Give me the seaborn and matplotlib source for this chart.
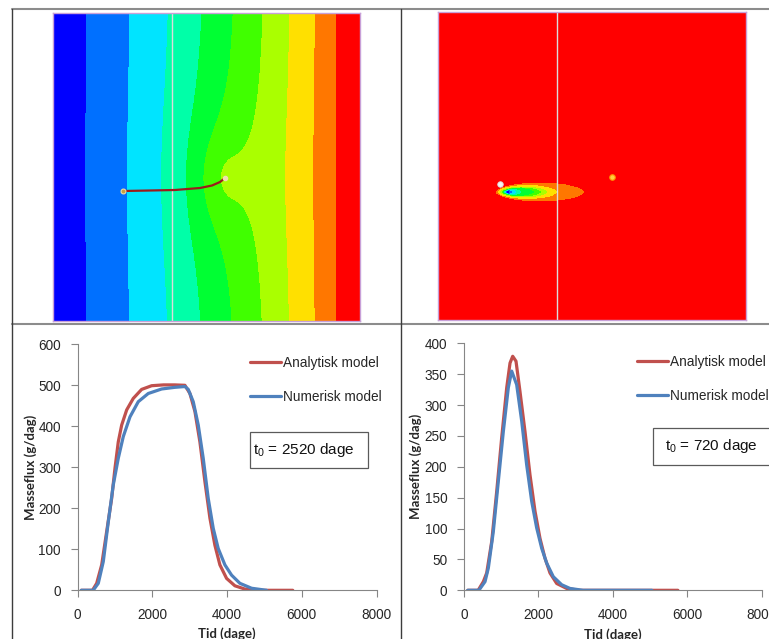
import numpy as np
import pandas as pd
import matplotlib
matplotlib.use("Agg")
import matplotlib.pyplot as plt
import seaborn as sns
from matplotlib.lines import Line2D
from matplotlib.patches import Rectangle

W, H = 769, 639

#########################################
################ DATA ###################
#########################################

# contour classes (jet-like, 10 bands) and where they sit along the left map (pixels)
band_colors = ["#0000ff", "#0070ff", "#00e4ff", "#00ffa8", "#00ff33",
               "#40ff00", "#aaff00", "#ffe000", "#ff7700", "#ff0000"]
band_edges_x = [53, 88, 133, 172, 206, 237, 266, 292, 317, 338, 360]
band_levels = [-1, 1, 2, 3, 4, 5, 6, 7, 8, 9, 99]

# bulge of the head field around the drain end
well_x, well_y, well_amp = 222, 178, 1.5
well_sx, well_sy = 28, 50
drain_x = [123, 150, 175, 200, 212, 220, 225]
drain_y = [191, 190.5, 190, 188, 185.5, 182, 178]

# plume in the right map: extent of each concentration contour (pixels)
plume_c = [0.1, 0.2, 0.3, 0.4, 0.5, 0.6, 0.7, 0.8, 0.9]
plume_left = [495, 497, 499, 501, 502, 503.5, 504.5, 505, 506]
plume_right = [585, 558, 548, 542, 535, 522, 517, 513, 510]
plume_half_h = [10, 7.5, 6, 5, 4.5, 3.5, 3, 2.2, 1.5]
plume_yc = 192

# breakthrough curves, t0 = 2520 dage
tid_an_1 = [100, 400, 513, 647, 780, 914, 1003, 1091, 1182, 1316, 1492, 1716, 1984, 2300,
            2600, 2874, 3008, 3142, 3275, 3409, 3543, 3676, 3810, 3989, 4211, 4479, 4925,
            5400, 5760]
flux_an_1 = [0, 0, 17, 62, 143, 224, 298, 362, 403, 440, 468, 490, 499, 501,
             501, 500, 480, 436, 362, 265, 176, 110, 62, 29, 11, 3, 0,
             0, 0]
tid_num_1 = [100, 420, 556, 690, 824, 957, 1091, 1225, 1404, 1626, 1893, 2251, 2600, 2874,
             2963, 3097, 3231, 3364, 3498, 3632, 3765, 3944, 4122, 4345, 4658, 5059]
flux_num_1 = [0, 0, 17, 70, 167, 257, 322, 375, 423, 460, 480, 491, 495, 497,
              490, 460, 403, 322, 224, 151, 102, 62, 37, 17, 5, 0]

# breakthrough curves, t0 = 720 dage
tid_an_2 = [100, 380, 520, 610, 745, 879, 1013, 1148, 1237, 1309, 1398, 1505, 1640, 1774,
            1909, 2043, 2177, 2312, 2492, 2760, 3100, 4000, 5000, 5750]
flux_an_2 = [0, 0, 14, 28, 79, 160, 247, 328, 368, 379, 371, 322, 257, 187,
             128, 84, 52, 28, 11, 3, 0, 0, 0, 0]
tid_num_2 = [100, 400, 565, 654, 788, 922, 1057, 1191, 1282, 1416, 1551, 1685, 1820, 1954,
             2089, 2223, 2401, 2626, 2849, 3200, 4000, 5050]
flux_num_2 = [0, 0, 14, 36, 95, 176, 257, 328, 355, 333, 274, 203, 144, 101,
              68, 44, 22, 9, 3, 0, 0, 0]

x_ticks = [0, 2000, 4000, 6000, 8000]

#########################################
################ STYLE ##################
#########################################

sns.set_theme(style="white")
plt.rcParams["font.family"] = ["Liberation Sans", "DejaVu Sans"]

fig = plt.figure(figsize=(W / 100, H / 100), dpi=100)


def px_axes(x0, y0, x1, y1):
    return fig.add_axes([x0 / W, 1 - y1 / H, (x1 - x0) / W, (y1 - y0) / H])


def fig_line(x0, y0, x1, y1, color, lw):
    fig.add_artist(Line2D([x0 / W, x1 / W], [1 - y0 / H, 1 - y1 / H],
                          transform=fig.transFigure, color=color, lw=lw))


#########################################
############## TOP MAPS #################
#########################################

# left map: head field
ax1 = px_axes(53, 13, 360, 321)
gx, gy = np.meshgrid(np.linspace(53, 360, 500), np.linspace(13, 321, 500))
head = np.interp(gx, band_edges_x, np.arange(11)) + \
    well_amp / (1 + ((gx - well_x) / well_sx) ** 2 + ((gy - well_y) / well_sy) ** 2)
ax1.contourf(gx, gy, head, levels=band_levels, colors=band_colors)
ax1.axvline(172, color="#dcdcdc", lw=1)
ax1.plot(drain_x, drain_y, color="#9b1c1c", lw=1.6)
ax1.plot(drain_x[0], drain_y[0], "o", ms=3.5, mfc="#c8a040", mec="#f0e0a0", mew=0.8)
ax1.plot(drain_x[-1], drain_y[-1], "o", ms=3, mfc="#f0e0b0", mec="#f0e0b0")
ax1.set_xlim(53, 360)
ax1.set_ylim(321, 13)

# right map: concentration plume, nested ellipses
ax2 = px_axes(438, 12, 746, 320)
gx, gy = np.meshgrid(np.linspace(438, 746, 900), np.linspace(12, 320, 900))
conc = np.zeros_like(gx)
for c in np.linspace(0.101, 0.95, 86):
    left = np.interp(c, plume_c, plume_left)
    right = np.interp(c, plume_c, plume_right)
    hh = np.interp(c, plume_c, plume_half_h)
    inside = ((gx - (left + right) / 2) / ((right - left) / 2)) ** 2 + ((gy - plume_yc) / hh) ** 2 <= 1
    conc = np.where(inside, np.maximum(conc, c), conc)
ax2.contourf(gx, gy, 10 - 10 * conc, levels=band_levels, colors=band_colors)
ax2.axvline(557, color="#dcdcdc", lw=1)
ax2.plot(500, 184, "o", ms=4, mfc="#f4f4f4", mec="#d8d8d8", mew=0.6)
ax2.plot(612, 177, "o", ms=4, mfc="#ffd040", mec="#ff9000", mew=0.8)
ax2.set_xlim(438, 746)
ax2.set_ylim(320, 12)

for ax in (ax1, ax2):
    ax.set_xticks([])
    ax.set_yticks([])
    for s in ax.spines.values():
        s.set_color("#c8a0d8")
        s.set_linewidth(1)

#########################################
########## BREAKTHROUGH CURVES ##########
#########################################

palette = {"Analytisk model": "#c0504d", "Numerisk model": "#4f81bd"}


def flux_panel(ax, t_an, f_an, t_num, f_num, ymax, ystep, t0_label, leg_xy, box, text_xy, ylab_x):
    df = pd.concat([
        pd.DataFrame({"Tid": t_an, "Masseflux": f_an, "model": "Analytisk model"}),
        pd.DataFrame({"Tid": t_num, "Masseflux": f_num, "model": "Numerisk model"}),
    ])
    sns.lineplot(data=df, x="Tid", y="Masseflux", hue="model", palette=palette,
                 linewidth=2.3, estimator=None, sort=False, ax=ax)
    ax.set_xlim(0, 8000)
    ax.set_ylim(0, ymax)
    ax.set_xticks(x_ticks)
    ax.set_yticks(np.arange(0, ymax + 1, ystep))
    sns.despine(ax=ax)
    for s in ("left", "bottom"):
        ax.spines[s].set_color("#868686")
        ax.spines[s].set_linewidth(0.8)
    ax.tick_params(axis="both", direction="out", length=5, width=0.8, color="#868686",
                   labelsize=9.8, labelcolor="#262626", left=True, bottom=True)
    ax.tick_params(axis="x", pad=8)
    ax.tick_params(axis="y", pad=7)
    ax.set_xlabel("Tid (dage)", fontsize=9.5, fontweight="bold", family=["Lato", "DejaVu Sans"])
    ax.set_ylabel("Masseflux (g/dag)", fontsize=9.5, fontweight="bold", family=["Lato", "DejaVu Sans"])
    ax.xaxis.set_label_coords(0.5, -0.152)
    ax.yaxis.set_label_coords(ylab_x, 0.5)

    h, l = ax.get_legend_handles_labels()
    ax.legend(h, l, loc="upper left", bbox_to_anchor=leg_xy, frameon=False, fontsize=9.8,
              handlelength=2.3, handletextpad=0.1, labelspacing=1.45,
              borderaxespad=0, borderpad=0)

    ax.add_patch(Rectangle((box[0], box[1]), box[2], box[3], transform=ax.transAxes,
                           facecolor="white", edgecolor="#5a5a5a", lw=0.9, clip_on=False))
    ax.text(text_xy[0], text_xy[1], r"$\mathregular{t_0}$" + t0_label, transform=ax.transAxes,
            fontsize=11, va="center", ha="left", color="#111111")


ax3 = px_axes(77.5, 344.3, 376.5, 590.3)
flux_panel(ax3, tid_an_1, flux_an_1, tid_num_1, flux_num_1, 600, 100, " = 2520 dage",
           (0.577, 0.952), (0.577, 0.497, 0.395, 0.146), (0.587, 0.570), -0.135)

ax4 = px_axes(464, 343.3, 761.6, 590.3)
flux_panel(ax4, tid_an_2, flux_an_2, tid_num_2, flux_num_2, 400, 50, " = 720 dage",
           (0.581, 0.952), (0.635, 0.507, 0.45, 0.150), (0.675, 0.584), -0.141)

#########################################
############## TABLE GRID ###############
#########################################

fig_line(12, 9, W, 9, "#8c8c8c", 1.5)
fig_line(12, 324, W, 324, "#8c8c8c", 1.5)
fig_line(12, 9, 12, H, "#3c3c3c", 1.0)
fig_line(400.5, 9, 400.5, H, "#3c3c3c", 1.0)

fig.savefig("out.png", dpi=100)
